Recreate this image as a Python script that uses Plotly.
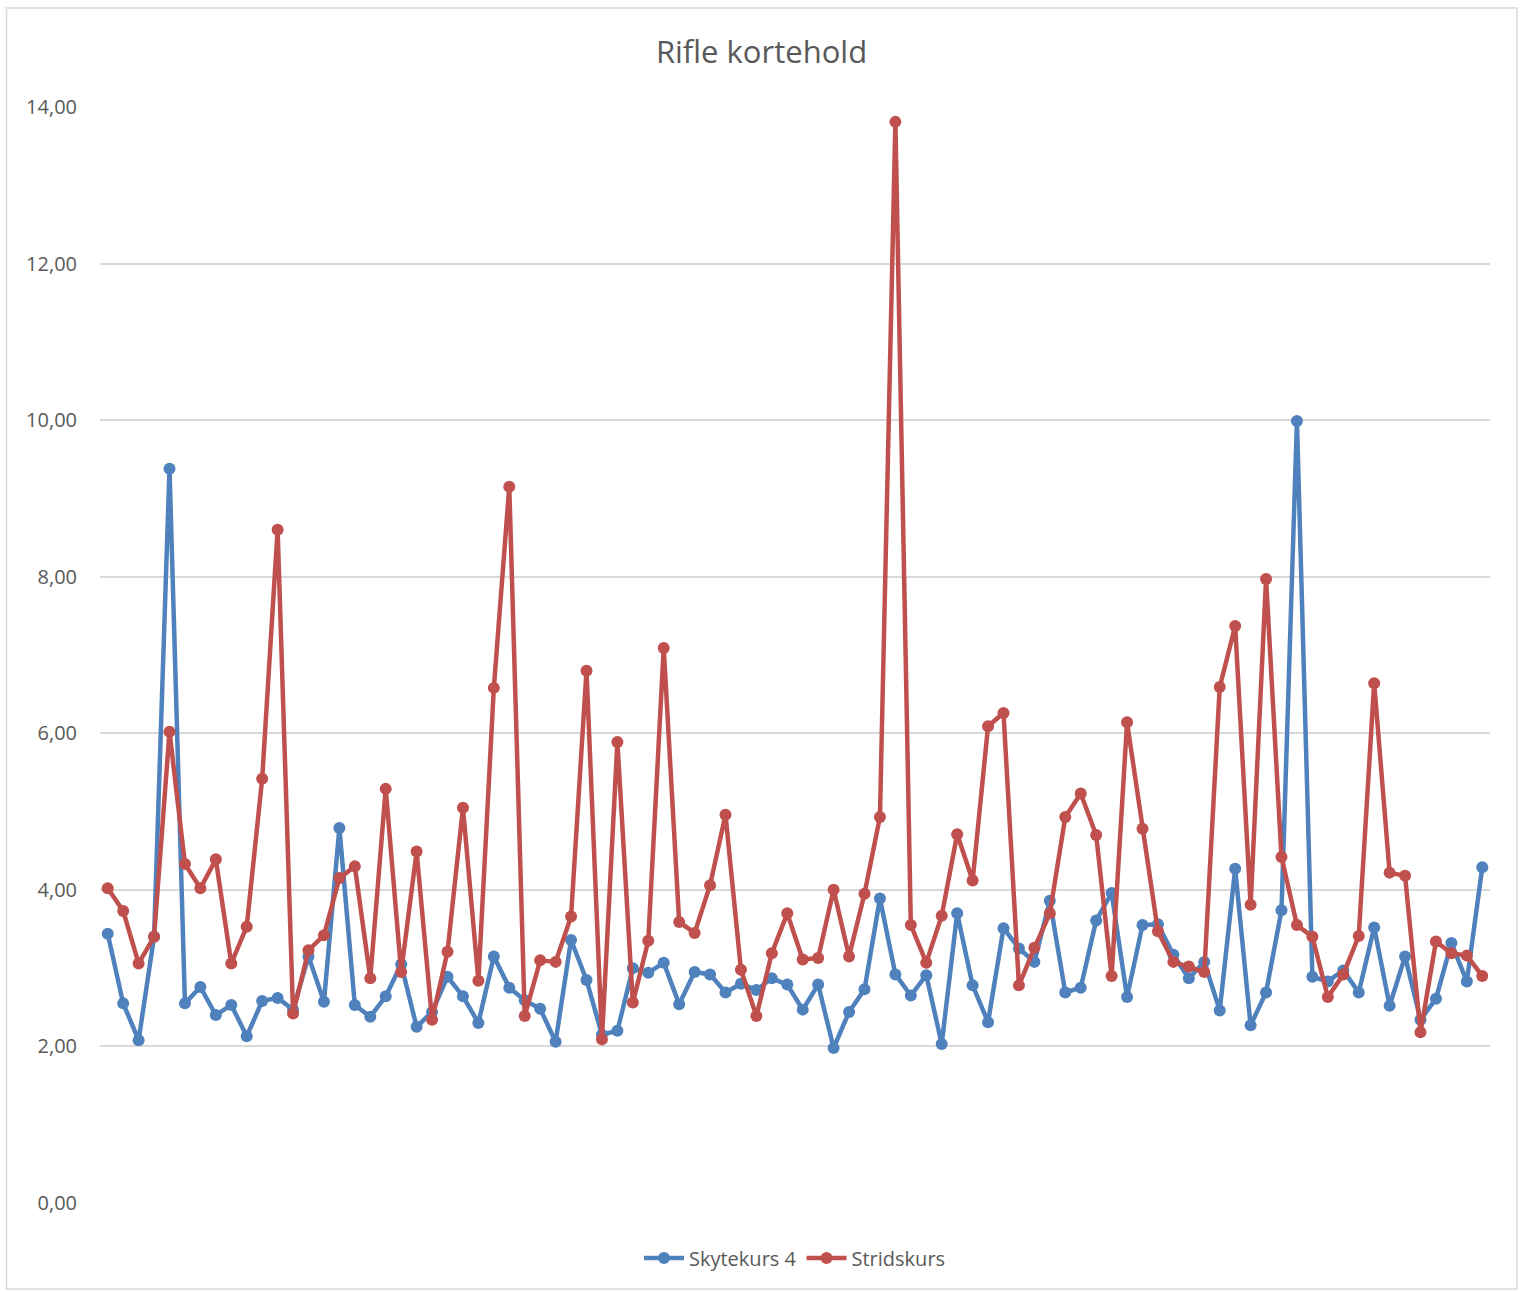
import plotly.graph_objects as go

categories = list(range(1, 91))

skytekurs_4 = [
    3.44, 2.55, 2.08, 3.40, 9.38, 2.55, 2.76, 2.40, 2.53, 2.13,
    2.58, 2.62, 2.47, 3.15, 2.57, 4.79, 2.53, 2.38, 2.64, 3.05,
    2.25, 2.44, 2.89, 2.64, 2.30, 3.15, 2.75, 2.59, 2.48, 2.06,
    3.36, 2.85, 2.15, 2.20, 3.00, 2.94, 3.07, 2.54, 2.95, 2.92,
    2.69, 2.80, 2.72, 2.87, 2.79, 2.47, 2.79, 1.98, 2.44, 2.73,
    3.89, 2.92, 2.65, 2.91, 2.03, 3.70, 2.78, 2.31, 3.51, 3.25,
    3.08, 3.86, 2.69, 2.75, 3.61, 3.96, 2.63, 3.55, 3.56, 3.17,
    2.87, 3.08, 2.46, 4.27, 2.27, 2.69, 3.74, 9.99, 2.89, 2.83,
    2.97, 2.69, 3.52, 2.52, 3.15, 2.34, 2.61, 3.32, 2.83, 4.29,
]

stridskurs = [
    4.02, 3.73, 3.06, 3.40, 6.02, 4.33, 4.02, 4.39, 3.06, 3.53,
    5.42, 8.60, 2.42, 3.23, 3.42, 4.15, 4.30, 2.87, 5.29, 2.95,
    4.49, 2.34, 3.21, 5.05, 2.84, 6.58, 9.15, 2.39, 3.10, 3.08,
    3.66, 6.80, 2.09, 5.89, 2.56, 3.35, 7.09, 3.59, 3.45, 4.06,
    4.96, 2.98, 2.39, 3.19, 3.70, 3.11, 3.13, 4.00, 3.15, 3.95,
    4.93, 13.81, 3.55, 3.07, 3.67, 4.71, 4.12, 6.09, 6.26, 2.78,
    3.26, 3.70, 4.93, 5.23, 4.70, 2.90, 6.14, 4.78, 3.47, 3.08,
    3.02, 2.95, 6.59, 7.37, 3.81, 7.97, 4.42, 3.55, 3.40, 2.63,
    2.92, 3.41, 6.64, 4.22, 4.18, 2.18, 3.34, 3.19, 3.16, 2.90,
]

y_ticks = [0, 2, 4, 6, 8, 10, 12, 14]

BLUE = "#4F81BD"
RED = "#C0504D"
TEXT = "#595959"
FONT = "Open Sans, Liberation Sans, sans-serif"

fig = go.Figure()
fig.add_trace(go.Scatter(
    x=categories, y=skytekurs_4, name="Skytekurs 4", mode="lines+markers",
    line=dict(color=BLUE, width=4.5), marker=dict(color=BLUE, size=12),
))
fig.add_trace(go.Scatter(
    x=categories, y=stridskurs, name="Stridskurs", mode="lines+markers",
    line=dict(color=RED, width=4.5), marker=dict(color=RED, size=12),
))

W, H = 1523, 1291
L, R, T, B = 100, 33, 107, 88
pw, ph = W - L - R, H - T - B

def px_x(p):
    return (p - L) / pw

def px_y(p):
    return (H - B - p) / ph

fig.update_layout(
    width=W, height=H,
    margin=dict(l=L, r=R, t=T, b=B, pad=0),
    paper_bgcolor="white", plot_bgcolor="white",
    separators=", ",
    font=dict(family=FONT, color=TEXT, size=20),
    title=dict(text="Rifle kortehold", x=0.5, xanchor="center",
               y=1 - 52 / H, yanchor="middle",
               font=dict(family=FONT, size=31, color=TEXT)),
    xaxis=dict(range=[0.5, 90.5], showticklabels=False, showgrid=False,
               zeroline=False, showline=False, ticks=""),
    yaxis=dict(range=[0, 14], tickvals=y_ticks, tickformat=".2f",
               showgrid=True, gridcolor="#D9D9D9", gridwidth=1.5,
               zeroline=False, showline=False, ticks="",
               ticklabelstandoff=22,
               tickfont=dict(family=FONT, size=20, color=TEXT)),
    legend=dict(orientation="h", x=0.5, xanchor="center",
                y=px_y(1258), yanchor="middle",
                font=dict(family=FONT, size=20, color=TEXT),
                itemwidth=40, tracegroupgap=10),
    showlegend=True,
    shapes=[dict(type="rect", xref="paper", yref="paper",
                 x0=px_x(6.5), x1=px_x(1517), y0=px_y(1289), y1=px_y(8),
                 line=dict(color="#D9D9D9", width=1.5), fillcolor="rgba(0,0,0,0)",
                 layer="below")],
)

fig.write_html(
    "out.html",
    config={"displayModeBar": False},
    post_script="document.body.style.margin='0';document.body.style.overflow='hidden';",
)
